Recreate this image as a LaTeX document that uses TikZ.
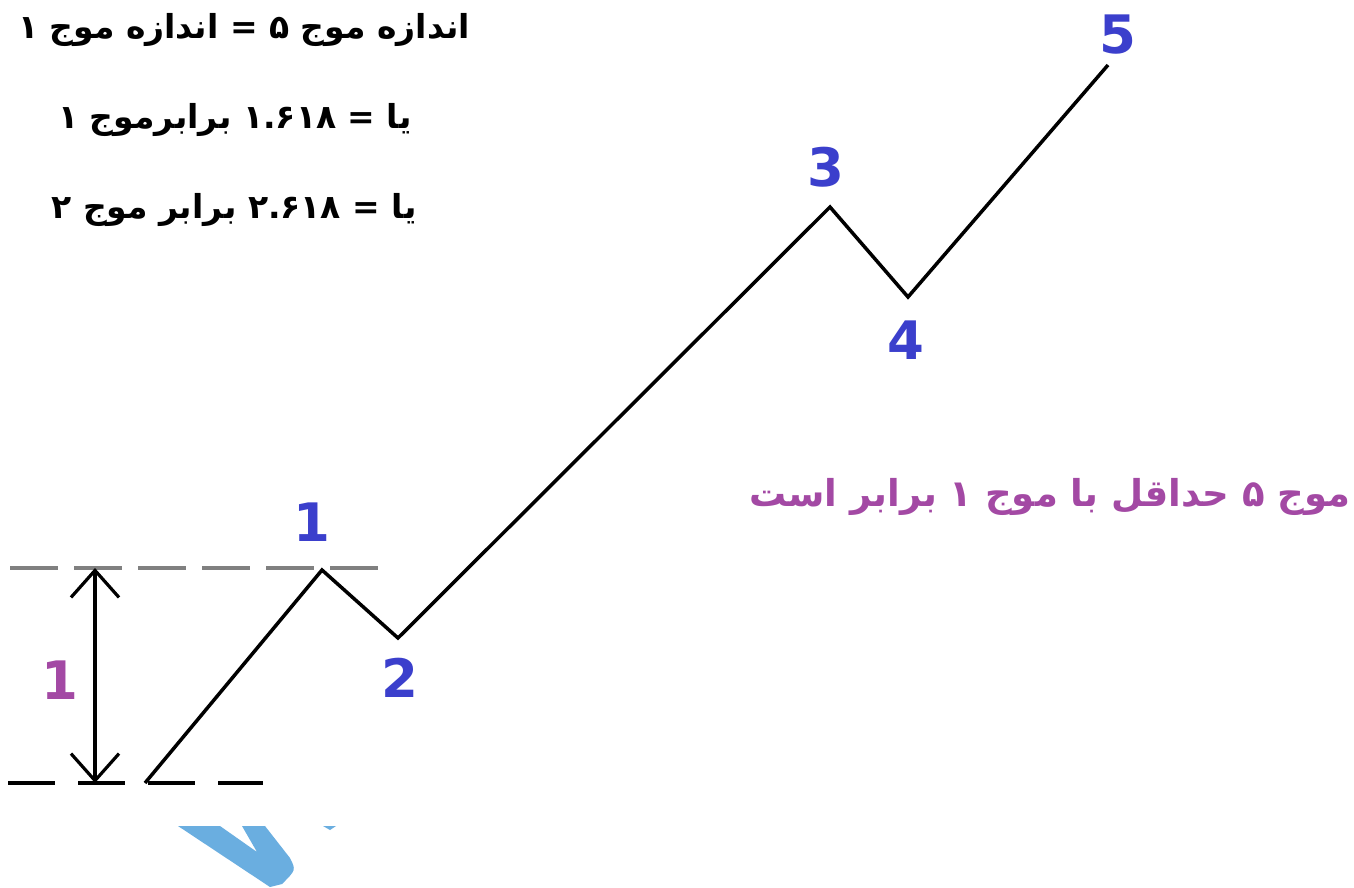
\documentclass[tikz,border=0pt]{standalone}
\usepackage{fontspec}
\usepackage{tikz}
\usetikzlibrary{arrows.meta}
\TeXXeTstate=1
\newfontfamily\arabicfont[Script=Arabic]{DejaVu Sans}
\newfontfamily\digitfont{DejaVu Sans}
\definecolor{wavenum}{HTML}{3B3FCC}
\definecolor{wavepurple}{HTML}{A349A4}
\definecolor{markblue}{HTML}{6AAEE0}

\begin{document}
\begin{tikzpicture}[x=1pt,y=-1pt,
  wavenum/.style={text=wavenum,font=\digitfont\bfseries\fontsize{53}{53}\selectfont},
  ruletext/.style={font=\arabicfont\bfseries\fontsize{33}{40}\selectfont},
  barb/.style={{Straight Barb[length=27pt,width=48pt]}-{Straight Barb[length=27pt,width=48pt]}}]
\useasboundingbox[fill=white] (0,0) rectangle (1354,887);

% wave points
\coordinate (w0) at (145,783);
\coordinate (w1) at (322,570);
\coordinate (w2) at (398,638);
\coordinate (w3) at (830,207);
\coordinate (w4) at (908,297);
\coordinate (w5) at (1108,65);

% level lines
\draw[gray,line width=4pt,dash pattern=on 48pt off 16pt] (10,568) -- (378,568);
\draw[line width=3.5pt,dash pattern=on 47pt off 23pt] (8,783) -- (263,783);
\coordinate (top) at (95,568);
\coordinate (bot) at (95,783);
\draw[barb,line width=3.2pt] (top) -- (bot);
\node[text=wavepurple,font=\digitfont\bfseries\fontsize{53}{53}\selectfont] (len) at (60,680) {1};

\draw[line width=3.5pt] (w0) -- (w1) -- (w2) -- (w3) -- (w4) -- (w5);

\node[wavenum] (n1) at (312,522) {1};
\node[wavenum] (n2) at (400,678) {2};
\node[wavenum] (n3) at (826,167) {3};
\node[wavenum] (n4) at (906,340) {4};
\node[wavenum] (n5) at (1118,35) {5};

% rules
\node[ruletext] (r1) at (244,30) {\beginR اندازه موج ۵ = اندازه موج ۱\endR};
\node[ruletext] (r2) at (235,120) {\beginR یا = \beginL ۱.۶۱۸\endL{} برابرموج ۱\endR};
\node[ruletext] (r3) at (234,210) {\beginR یا = \beginL ۲.۶۱۸\endL{} برابر موج ۲\endR};
\node[ruletext,text=wavepurple,font=\arabicfont\bfseries\fontsize{37}{44}\selectfont] (r4) at (1050,497) {\beginR موج ۵ حداقل با موج ۱ برابر است\endR};

% blue mark
\fill[markblue] (178,826) -- (220,826) -- (257,852) -- (242,826) -- (265,826)
  -- (290,858) .. controls (296,870) .. (282,884) -- (270,887) -- cycle;
\fill[markblue] (323,826) -- (336,826) -- (330,830) -- cycle;
\end{tikzpicture}
\end{document}
